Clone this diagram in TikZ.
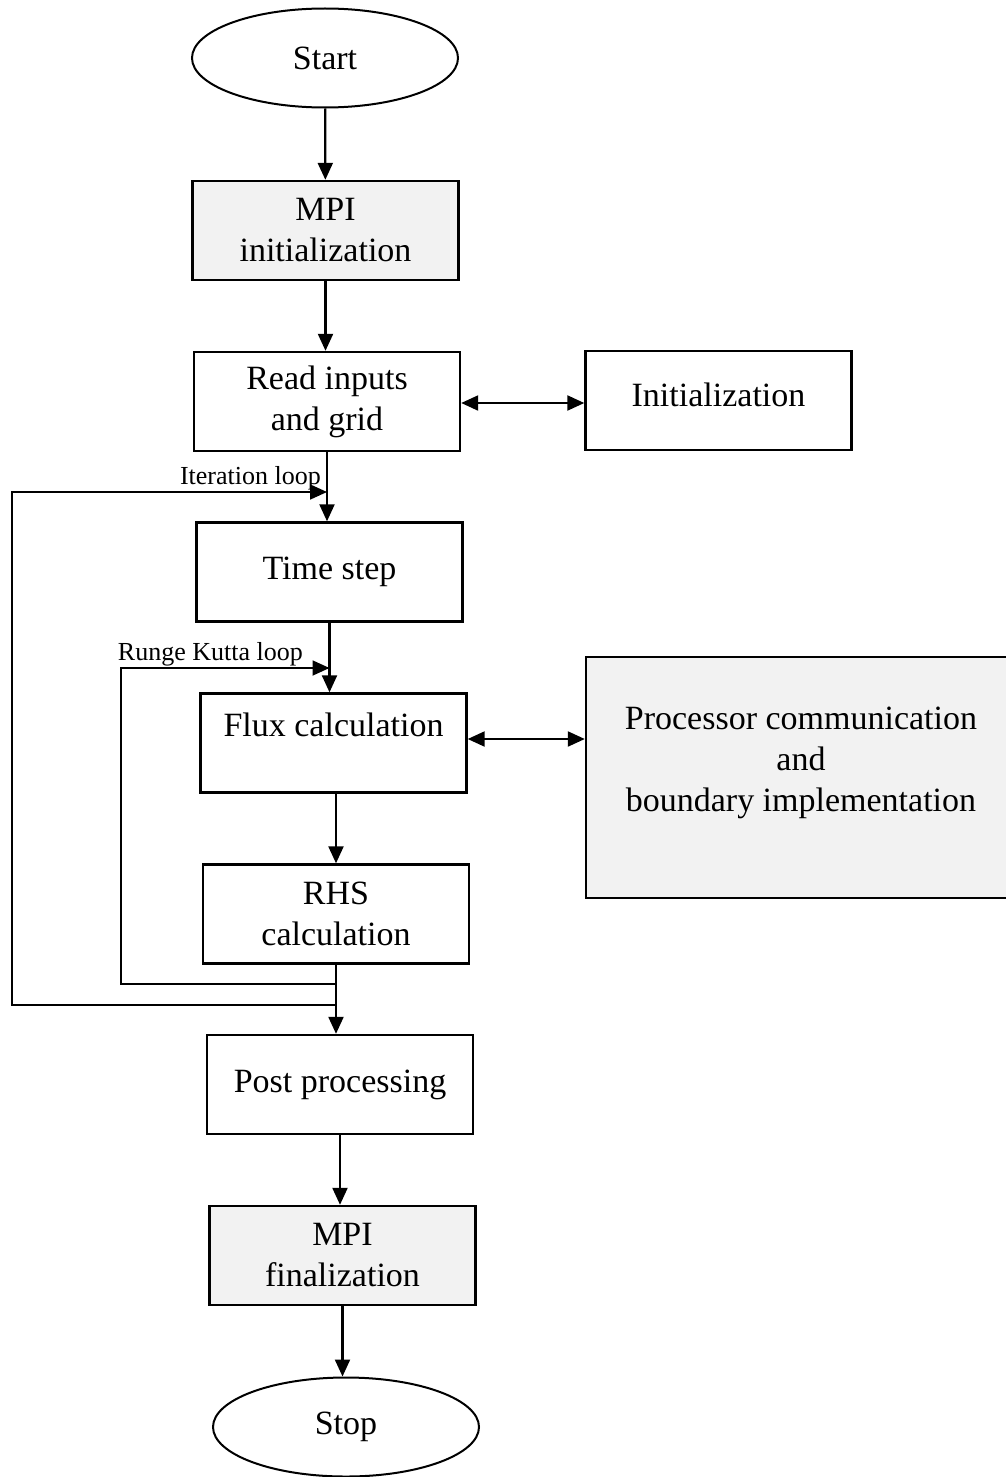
\documentclass[tikz,border=0pt]{standalone}
\usepackage{fontspec}
\setmainfont{Liberation Serif}
\usetikzlibrary{shapes.geometric,arrows.meta,calc}
\definecolor{boxgray}{HTML}{F2F2F2}
\tikzset{
  flowbox/.style={draw=black, line width=2.4pt, rectangle, minimum width=266pt, minimum height=99pt, inner sep=0pt, align=center, font=\fontsize{34}{41}\selectfont},
  graybox/.style={flowbox, fill=boxgray},
  term/.style={draw=black, line width=2pt, ellipse, minimum width=266pt, minimum height=99pt, inner sep=0pt, font=\fontsize{34}{41}\selectfont},
  arr/.style={line width=2.2pt, -{Triangle[length=17pt,width=15pt]}},
  darr/.style={line width=2.2pt, {Triangle[length=17pt,width=15pt]}-{Triangle[length=17pt,width=15pt]}},
  loopline/.style={line width=1.8pt, -{Triangle[length=17pt,width=15pt]}},
  looplabel/.style={font=\fontsize{26}{29}\selectfont, inner sep=0pt}
}
\begin{document}
\begin{tikzpicture}[x=1pt,y=-1pt]
\useasboundingbox (0,0) rectangle (1006,1477);
\node[term] (start) at (325,58) {Start};
\node[graybox] (mpi) at (325.5,230.5) {MPI\\initialization};
\node[flowbox] (read) at (327,401.5) {Read inputs\\and grid};
\node[flowbox] (init) at (718.5,400.5) {\raisebox{6pt}[\height][\depth]{Initialization}};
\node[flowbox] (time) at (329.5,572) {Time step};
\node[flowbox] (flux) at (333.5,743) {\raisebox{18pt}[\height][\depth]{Flux calculation}};
\node[graybox, minimum width=430pt, minimum height=241pt] (proc) at (801,777.5) {\raisebox{15pt}[\height][\depth]{\begin{tabular}{@{}c@{}}Processor communication\\and\\boundary implementation\end{tabular}}};
\node[flowbox] (rhs) at (336,914) {RHS\\calculation};
\node[flowbox] (post) at (340,1084.5) {Post processing};
\node[graybox] (fin) at (342.5,1255.5) {MPI\\finalization};
\node[term] (stop) at (346,1427) {Stop};

\coordinate (itTop) at (12,492);
\coordinate (rkTop) at (121,668);

\draw[arr] (start) -- (mpi);
\draw[arr] (mpi.south) -- (mpi.south |- read.north);
\draw[darr] (read.east) ++(0,1.5) coordinate (rdE) -- (rdE -| init.west);
\draw[arr] (read.south) -- (read.south |- time.north);
\draw[arr] (time.south) -- (time.south |- flux.north);
\draw[darr] (flux.east) ++(0,-4) coordinate (fxE) -- (fxE -| proc.west);
\draw[arr] (rhs.north |- flux.south) -- (rhs.north);
\draw[arr] (rhs.south) -- (rhs.south |- post.north);
\draw[arr] (post.south) -- (post.south |- fin.north);
\draw[arr] (fin.south) -- (fin.south |- stop.north);

% Iteration loop
\draw[loopline] ($(rhs.south)+(0,40)$) -| (itTop) -- (read.south |- itTop);
\node[looplabel, anchor=base east] (itlab) at (321,484) {Iteration loop};
% Runge Kutta loop
\draw[loopline] ($(rhs.south)+(0,19)$) -| (rkTop) -- (time.south |- rkTop);
\node[looplabel, anchor=base east] (rklab) at (303,660) {Runge Kutta loop};
\end{tikzpicture}
\end{document}
